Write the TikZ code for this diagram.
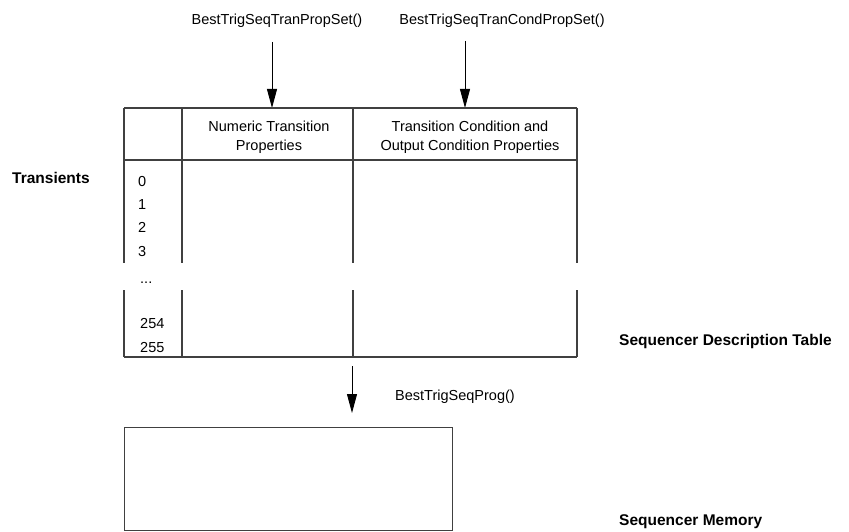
\documentclass[tikz,border=0pt]{standalone}
\usepackage{fontspec}
\setmainfont{Liberation Sans}
\usetikzlibrary{arrows.meta}
\tikzset{
  txt/.style={inner sep=0pt, font=\fontsize{14.5}{17}\selectfont},
  btxt/.style={inner sep=0pt, font=\fontsize{15.5}{18}\selectfont\bfseries},
  tline/.style={draw=black!75, line width=1.1pt},
  arr/.style={draw=black, line width=0.9pt, -{Triangle[length=19pt,width=10pt]}},
}
\begin{document}
\begin{tikzpicture}[x=1pt,y=-1pt]
\useasboundingbox (0,0) rectangle (849,532);

% function labels
\node[txt, anchor=base] (lbl1) at (277,25) {BestTrigSeqTranPropSet()};
\node[txt, anchor=base] (lbl2) at (502,25) {BestTrigSeqTranCondPropSet()};

% arrow coordinates
\coordinate (a1s) at (272,42);
\coordinate (a1e) at (272,108);
\coordinate (a2s) at (465,41);
\coordinate (a2e) at (465,108);
\draw[arr] (a1s) -- (a1e);
\draw[arr] (a2s) -- (a2e);

% table
\draw[tline] (124,108) -- (577,108);
\draw[tline] (124,160) -- (577,160);
\draw[tline] (124,357) -- (577,357);
\foreach \x in {124,182,353,577} {
  \draw[tline] (\x,108) -- (\x,263);
  \draw[tline] (\x,290) -- (\x,357);
}

% header text
\node[txt, anchor=base] (h1a) at (269,132) {Numeric Transition};
\node[txt, anchor=base] (h1b) at (269,151) {Properties};
\node[txt, anchor=base] (h2a) at (470,132) {Transition Condition and};
\node[txt, anchor=base] (h2b) at (470,151) {Output Condition Properties};

% row numbers
\node[txt, anchor=base west] (r0) at (138,186) {0};
\node[txt, anchor=base west] (r1) at (138,209) {1};
\node[txt, anchor=base west] (r2) at (138,232) {2};
\node[txt, anchor=base west] (r3) at (138,256) {3};
\node[txt, anchor=base west] (rdots) at (140,283) {...};
\node[txt, anchor=base west] (r254) at (140,328) {254};
\node[txt, anchor=base west] (r255) at (140,352) {255};

% side labels
\node[btxt, anchor=base west] (trans) at (12,183) {Transients};
\node[btxt, anchor=base west] (sdt) at (619,345) {Sequencer Description Table};

% program arrow
\coordinate (a3s) at (352,366);
\coordinate (a3e) at (352,413);
\draw[arr] (a3s) -- (a3e);
\node[txt, anchor=base west] (lbl3) at (395,400) {BestTrigSeqProg()};

% memory box
\node[tline, draw, anchor=north west, minimum width=328pt, minimum height=103pt, inner sep=0pt] (mem) at (124,427) {};
\node[btxt, anchor=base west] (smem) at (619,525) {Sequencer Memory};
\end{tikzpicture}
\end{document}
